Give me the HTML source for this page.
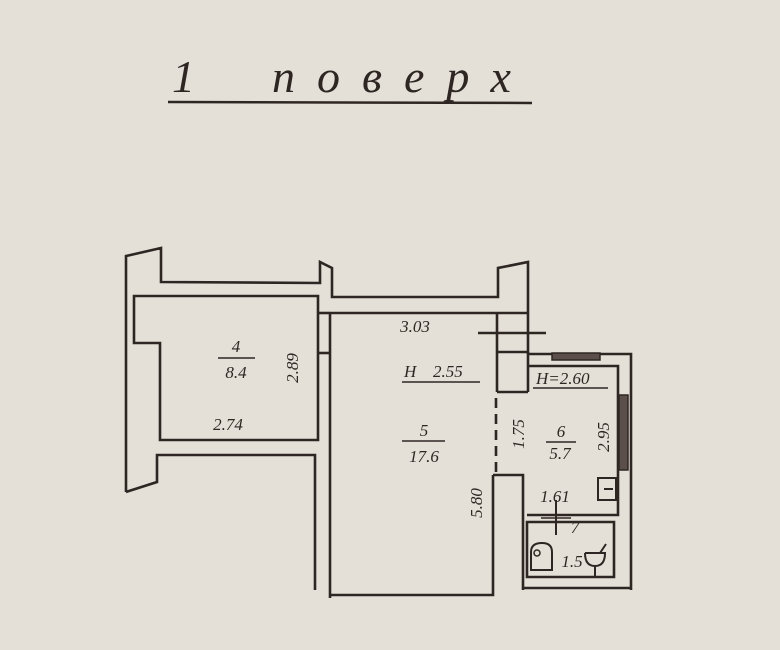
<!DOCTYPE html>
<html><head><meta charset="utf-8"><style>
html,body{margin:0;padding:0;background:#e4e0d8;}
svg{display:block}
text{font-family:"Liberation Serif",serif;font-style:italic;fill:#2e2622}
</style></head><body>
<svg width="780" height="650" viewBox="0 0 780 650" xmlns="http://www.w3.org/2000/svg">
<rect width="780" height="650" fill="#e4e0d8"/>
<text x="172" y="92" font-size="46">1</text>
<text x="272" y="92" font-size="46" letter-spacing="22">поверх</text>
<line x1="168" y1="102" x2="532" y2="103" stroke="#2e2622" stroke-width="2.5"/>
<g fill="none" stroke="#2e2622" stroke-width="2.6" stroke-linejoin="miter">
<path d="M126,492 L126,256 L161,248 L161,282 L320,283 L320,262 L332,268 L332,297 L498,297 L498,268 L528,262 L528,354"/>
<path d="M134,296 L318,296 L318,440 L160,440 L160,343 L134,343 Z"/>
<path d="M126,492 L157,482 L157,455 L315,455 L315,590"/>
<line x1="330" y1="313" x2="330" y2="598"/>
<line x1="318" y1="313" x2="330" y2="313"/>
<line x1="318" y1="353" x2="330" y2="353"/>
<path d="M330,313 L528,313"/>
<path d="M330,595 L493,595 L493,475"/>
<line x1="497" y1="313" x2="497" y2="392"/>
<line x1="478" y1="333" x2="546" y2="333"/>
<line x1="497" y1="352" x2="528" y2="352"/>
<line x1="497" y1="392" x2="528" y2="392"/>
<line x1="528" y1="352" x2="528" y2="392"/>
<line x1="496" y1="398" x2="496" y2="472" stroke-dasharray="10,6"/>
<path d="M493,475 L523,475 L523,590"/>
<path d="M528,354 L631,354 L631,590"/>
<path d="M528,366 L618,366 L618,515 L527,515"/>
<rect x="552" y="353" width="48" height="7" fill="#5a4f4a" stroke-width="1.5"/>
<rect x="619" y="395" width="9" height="75" fill="#5a4f4a" stroke-width="1.5"/>
<rect x="598" y="478" width="18" height="22" stroke-width="2"/>
<line x1="604" y1="489" x2="613" y2="489" stroke-width="2"/>
<path d="M527,522 L614,522 L614,577 L527,577 Z"/>
<line x1="523" y1="588" x2="631" y2="588"/>
<line x1="556" y1="500" x2="556" y2="535" stroke-width="2"/>
<line x1="541" y1="518" x2="571" y2="518" stroke-width="1.5"/>
<path d="M531,570 L531,552 Q531,543 542,543 Q552,543 552,552 L552,570 Z" stroke-width="2"/>
<circle cx="537" cy="553" r="3" stroke-width="1.5"/>
<path d="M585,553 L605,553 Q605,566 595,566 Q585,566 585,553 M595,566 L595,577 M600,553 L606,544" stroke-width="2"/>
<line x1="402" y1="382" x2="480" y2="382" stroke-width="1.5"/>
<line x1="533" y1="388" x2="608" y2="388" stroke-width="1.5"/>
<line x1="218" y1="358" x2="255" y2="358" stroke-width="1.5"/>
<line x1="402" y1="441" x2="445" y2="441" stroke-width="1.5"/>
<line x1="546" y1="442" x2="576" y2="442" stroke-width="1.5"/>
</g>
<g font-size="17">
<text x="236" y="352" text-anchor="middle">4</text>
<text x="236" y="378" text-anchor="middle">8.4</text>
<text x="228" y="430" text-anchor="middle">2.74</text>
<text x="415" y="332" text-anchor="middle">3.03</text>
<text x="404" y="377">H</text>
<text x="433" y="377">2.55</text>
<text x="424" y="436" text-anchor="middle">5</text>
<text x="424" y="462" text-anchor="middle">17.6</text>
<text x="536" y="384">H=2.60</text>
<text x="561" y="437" text-anchor="middle">6</text>
<text x="560" y="459" text-anchor="middle">5.7</text>
<text x="555" y="502" text-anchor="middle">1.61</text>
<text x="575" y="533" text-anchor="middle">7</text>
<text x="572" y="567" text-anchor="middle">1.5</text>
<text transform="translate(298,368) rotate(-90)" text-anchor="middle">2.89</text>
<text transform="translate(524,434) rotate(-90)" text-anchor="middle">1.75</text>
<text transform="translate(482,503) rotate(-90)" text-anchor="middle">5.80</text>
<text transform="translate(609,437) rotate(-90)" text-anchor="middle">2.95</text>
</g>
</svg>
</body></html>
